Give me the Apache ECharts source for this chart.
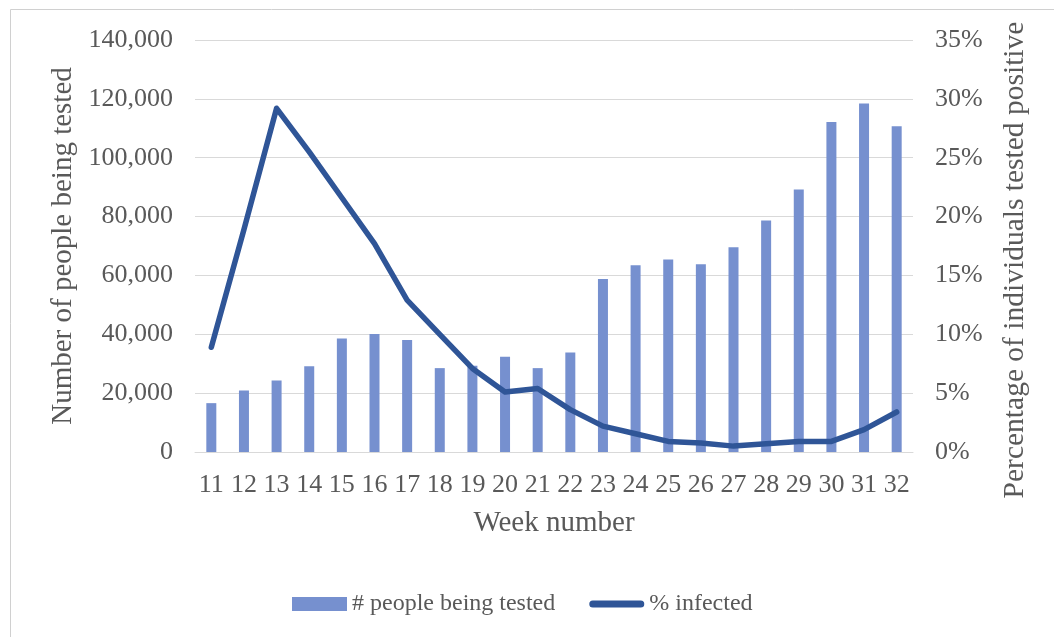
<!DOCTYPE html>
<html>
<head>
<meta charset="utf-8">
<script src="https://cdn.jsdelivr.net/npm/echarts@6/dist/echarts.min.js"></script>
<style>
  html, body { margin: 0; padding: 0; background: #ffffff; }
  #chart { width: 1054px; height: 637px; }
</style>
</head>
<body>
<div id="chart"></div>
<script>
// Weekly testing volume and share of positive tests
const weeks = ['11','12','13','14','15','16','17','18','19','20','21','22','23','24','25','26','27','28','29','30','31','32'];
const peopleTested = [16600, 20900, 24300, 29100, 38600, 40100, 38100, 28500, 29300, 32400, 28500, 33800, 58800, 63500, 65400, 63800, 69600, 78700, 89200, 112100, 118400, 110700];
const pctInfected = [8.9, 18.9, 29.2, 25.5, 21.6, 17.7, 12.9, 10.0, 7.1, 5.1, 5.4, 3.6, 2.2, 1.55, 0.9, 0.76, 0.5, 0.7, 0.9, 0.9, 1.9, 3.4];

const barName = '# people being tested';
const lineName = '% infected';

const FONT = '"Liberation Serif", "Times New Roman", serif';
const TXT = '#595959';
const GRID = '#d9d9d9';

const chart = echarts.init(document.getElementById('chart'), null, { renderer: 'canvas' });

chart.setOption({
  animation: false,
  backgroundColor: '#ffffff',
  textStyle: { fontFamily: FONT, color: TXT },
  graphic: [{
    type: 'rect',
    left: 8, top: 7,
    shape: { width: 1200, height: 800 },
    style: { fill: 'none', stroke: '#d0d0d0', lineWidth: 1 },
    silent: true, z: -1
  }],
  grid: { left: 195, right: 141, top: 40, bottom: 185 },
  legend: {
    left: 287, top: 587,
    itemWidth: 55, itemHeight: 14, itemGap: 34,
    textStyle: { fontFamily: FONT, color: TXT, fontSize: 24 },
    data: [
      { name: barName, icon: 'rect' },
      { name: lineName, icon: 'path://M3.5,0H51.5A3.5,3.5 0 0 1 51.5,7H3.5A3.5,3.5 0 0 1 3.5,0Z' }
    ]
  },
  xAxis: {
    type: 'category',
    data: weeks,
    name: 'Week number',
    nameLocation: 'middle',
    nameGap: 57,
    nameTextStyle: { fontFamily: FONT, color: TXT, fontSize: 29 },
    axisLine: { show: true, lineStyle: { color: GRID, width: 1 } },
    axisTick: { show: false },
    axisLabel: { fontFamily: FONT, color: TXT, fontSize: 26, margin: 20, interval: 0 }
  },
  yAxis: [{
    type: 'value',
    min: 0, max: 140000, interval: 20000,
    name: 'Number of people being tested',
    nameLocation: 'middle',
    nameRotate: 90,
    nameGap: 117,
    nameTextStyle: { fontFamily: FONT, color: TXT, fontSize: 29 },
    axisLine: { show: false },
    axisTick: { show: false },
    splitLine: { lineStyle: { color: GRID, width: 1 } },
    axisLabel: {
      fontFamily: FONT, color: TXT, fontSize: 26, margin: 22,
      formatter: v => v.toLocaleString('en-US')
    }
  }, {
    type: 'value',
    min: 0, max: 35, interval: 5,
    name: 'Percentage of individuals tested positive',
    nameLocation: 'middle',
    nameRotate: 90,
    nameGap: 87,
    nameTextStyle: { fontFamily: FONT, color: TXT, fontSize: 29.5, padding: [0, 28, 0, 0] },
    axisLine: { show: false },
    axisTick: { show: false },
    splitLine: { show: false },
    axisLabel: { fontFamily: FONT, color: TXT, fontSize: 26, margin: 22, formatter: '{value}%' }
  }],
  series: [{
    name: barName,
    type: 'bar',
    yAxisIndex: 0,
    data: peopleTested,
    barWidth: 10,
    itemStyle: { color: '#7690cf' }
  }, {
    name: lineName,
    type: 'line',
    yAxisIndex: 1,
    data: pctInfected,
    symbol: 'none',
    lineStyle: { color: '#2f5597', width: 5.5, join: 'round', cap: 'round' },
    itemStyle: { color: '#2f5597' },
    z: 3
  }]
});
</script>
</body>
</html>
